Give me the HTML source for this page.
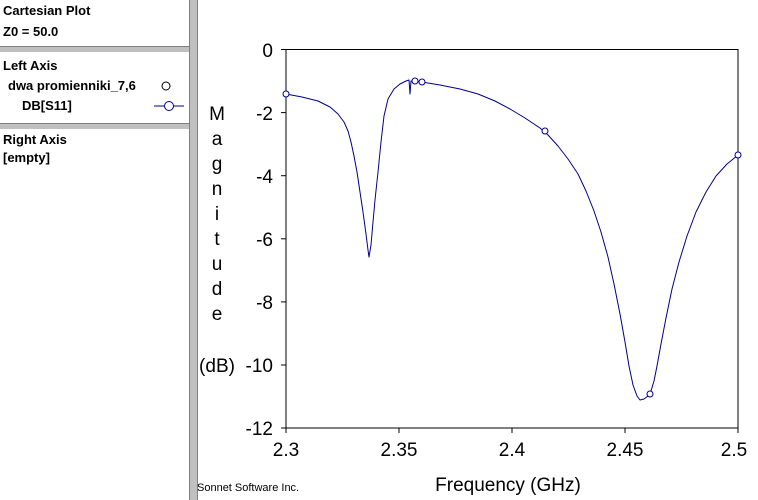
<!DOCTYPE html>
<html><head><style>
body{margin:0;width:758px;height:500px;background:#fff;overflow:hidden;font-family:"Liberation Sans",sans-serif;}
.p{position:absolute;font-size:13px;font-weight:bold;color:#000;}
</style></head><body>
<div style="position:absolute;left:0;top:46px;width:190px;height:5px;background:#c0c0c0;border-top:1px solid #808080;border-bottom:1px solid #fff"></div>
<div style="position:absolute;left:0;top:123px;width:190px;height:5px;background:#c0c0c0;border-top:1px solid #808080;border-bottom:1px solid #fff"></div>
<div style="position:absolute;left:189px;top:0;width:7px;height:500px;background:#c0c0c0;border-left:1px solid #808080;border-right:1px solid #808080"></div>
<div class="p" style="left:3px;top:3px">Cartesian Plot</div>
<div class="p" style="left:3px;top:24px">Z0 = 50.0</div>
<div class="p" style="left:3px;top:58px">Left Axis</div>
<div class="p" style="left:8px;top:78px">dwa promienniki_7,6</div>
<div class="p" style="left:22px;top:98px">DB[S11]</div>
<div class="p" style="left:3px;top:132px">Right Axis</div>
<div class="p" style="left:3px;top:150px">[empty]</div>
<svg style="position:absolute;left:0;top:0" width="758" height="500">
<circle cx="166" cy="86" r="4" fill="none" stroke="#000" stroke-width="1"/>
<line x1="154" y1="106" x2="184" y2="106" stroke="#00008b"/>
<circle cx="169" cy="106" r="4.5" fill="#fff" stroke="#00008b"/>
<rect x="286" y="49.5" width="452" height="378.5" fill="none" stroke="#000"/>
<g stroke="#000">
<line x1="281" y1="49.5" x2="286" y2="49.5"/><line x1="281" y1="112.6" x2="286" y2="112.6"/><line x1="281" y1="175.7" x2="286" y2="175.7"/><line x1="281" y1="238.8" x2="286" y2="238.8"/><line x1="281" y1="301.9" x2="286" y2="301.9"/><line x1="281" y1="365" x2="286" y2="365"/><line x1="281" y1="428" x2="286" y2="428"/>
<line x1="286" y1="428" x2="286" y2="433"/><line x1="399" y1="428" x2="399" y2="433"/><line x1="512" y1="428" x2="512" y2="433"/><line x1="625" y1="428" x2="625" y2="433"/><line x1="738" y1="428" x2="738" y2="433"/>
</g>
<g font-size="19" text-anchor="end" font-family="Liberation Sans,sans-serif">
<text x="273" y="57">0</text><text x="273" y="120">-2</text><text x="273" y="183">-4</text><text x="273" y="246">-6</text><text x="273" y="309">-8</text><text x="273" y="372">-10</text><text x="273" y="435">-12</text>
</g>
<g font-size="19" text-anchor="middle" font-family="Liberation Sans,sans-serif">
<text x="286" y="456">2.3</text><text x="399" y="456">2.35</text><text x="512" y="456">2.4</text><text x="625" y="456">2.45</text><text x="734" y="456">2.5</text>
<text x="508" y="491">Frequency (GHz)</text>
<text x="217" y="120">M</text><text x="217" y="145">a</text><text x="217" y="170">g</text><text x="217" y="195">n</text><text x="217" y="220">i</text><text x="217" y="245">t</text><text x="217" y="270">u</text><text x="217" y="295">d</text><text x="217" y="320">e</text><text x="217" y="372">(dB)</text>
</g>
<text x="197" y="491" font-size="11" font-family="Liberation Sans,sans-serif">Sonnet Software Inc.</text>
<polyline fill="none" stroke="#00008b" stroke-width="1" stroke-linejoin="round" points="286,94 302,97 318,101 330,107 338,114 344,122 348,131 351,142 354,156 357,172 360,192 363,212 366,234 368,250 369,257 371,245 373,222 375,200 378,172 381,142 384,116 388,99 394,89 400,84 406,81 409,80 410,94 411,81 415,81 422,82 440,85 460,89 478,94 495,101 510,109 525,118 540,128 548,135 558,146 568,159 578,174 586,191 594,211 601,232 608,257 614,284 620,314 625,342 629,366 633,385 637,396 640,400 644,399 648,396 651,391 654,381 657,366 661,344 666,318 672,289 679,262 687,236 696,212 706,192 716,176 727,164 738,155"/>
<g fill="#fff" stroke="#00008b">
<circle cx="286" cy="94" r="3"/><circle cx="415" cy="81" r="3"/><circle cx="422" cy="82" r="3"/><circle cx="545" cy="131" r="3"/><circle cx="650" cy="394" r="3"/><circle cx="738" cy="155" r="3"/>
</g>
</svg>
</body></html>
